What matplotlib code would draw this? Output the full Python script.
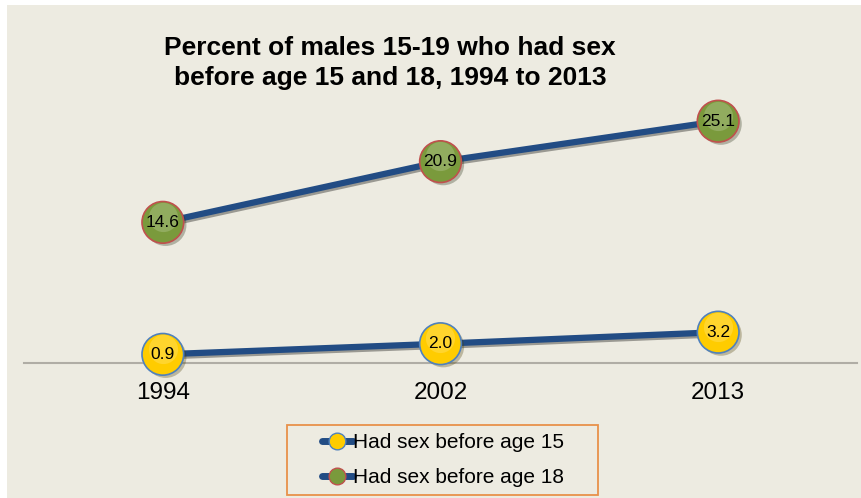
import matplotlib
matplotlib.use("Agg")
import matplotlib.pyplot as plt
import matplotlib.patheffects as pe
import matplotlib.transforms as mtransforms
from matplotlib.lines import Line2D
from matplotlib.patches import Rectangle

# data
years = ["1994", "2002", "2013"]
before_15 = [0.9, 2.0, 3.2]
before_18 = [14.6, 20.9, 25.1]
series_names = ["Had sex before age 15", "Had sex before age 18"]

plt.rcParams["font.family"] = ["Liberation Sans", "DejaVu Sans"]

bg = "#EDEBE1"
line_col = "#224C84"
yellow = "#FFCC00"
yellow_edge = "#4F81BD"
green = "#7A9A3C"
green_edge = "#C0504D"

fig = plt.figure(figsize=(8.61, 4.98), dpi=100)
fig.patch.set_facecolor("white")
# beige chart area (small white margin top/left)
fig.patches.append(Rectangle((7 / 861, 0), 1 - 7 / 861, 1 - 5 / 498,
                             transform=fig.transFigure, facecolor=bg,
                             edgecolor="none", zorder=-10))

ax = fig.add_axes([24 / 861, 135 / 498, 833 / 861, 289 / 498])
ax.set_facecolor("none")

x = list(range(len(years)))
shadow_line = [pe.SimpleLineShadow(offset=(1.5, -1.5), alpha=0.35), pe.Normal()]
shadow_mark = [pe.SimplePatchShadow(offset=(2, -2), alpha=0.3), pe.Normal()]
shine = mtransforms.offset_copy(ax.transData, fig=fig, x=0, y=4, units="points")

for vals, fc, ec in [(before_15, yellow, yellow_edge), (before_18, green, green_edge)]:
    ax.plot(x, vals, color=line_col, lw=4.5, solid_capstyle="butt",
            path_effects=shadow_line, clip_on=False, zorder=3)
    ax.plot(x, vals, ls="none", marker="o", ms=30, mfc=fc, mec=ec, mew=1.2,
            path_effects=shadow_mark, clip_on=False, zorder=4)
    # soft highlight for the glossy look
    ax.plot(x, vals, ls="none", marker="o", ms=21, mfc="white", mec="none",
            alpha=0.18, transform=shine, clip_on=False, zorder=4.5)
    for xi, v in zip(x, vals):
        ax.text(xi, v, f"{v:.1f}", ha="center", va="center", fontsize=12.5,
                color="black", zorder=5)

ax.set_xlim(-0.5, 2.5)
ax.set_ylim(0, 30)
ax.set_xticks(x)
ax.set_xticklabels(years, fontsize=17.5)
ax.set_yticks([])
ax.tick_params(axis="x", length=0, pad=14)
for s in ["top", "right", "left"]:
    ax.spines[s].set_visible(False)
ax.spines["bottom"].set_color("#B0ADA5")
ax.spines["bottom"].set_linewidth(1.5)

fig.text(390 / 861, 1 - 63 / 498,
         "Percent of males 15-19 who had sex\nbefore age 15 and 18, 1994 to 2013",
         ha="center", va="center", fontsize=19, fontweight="bold",
         linespacing=1.3)

# legend
handles = [
    Line2D([], [], color=line_col, lw=5, marker="o", ms=12, mfc=yellow, mec=yellow_edge,
           solid_capstyle="round"),
    Line2D([], [], color=line_col, lw=5, marker="o", ms=12, mfc=green, mec=green_edge,
           solid_capstyle="round"),
]
fig.patches.append(Rectangle((287 / 861, 1 - 495 / 498), 311 / 861, 70 / 498,
                             transform=fig.transFigure, facecolor="none",
                             edgecolor="#E8914A", lw=1.3, zorder=1))
fig.legend(handles, series_names, loc="center", bbox_to_anchor=(443 / 861, 1 - 460 / 498),
           frameon=False, fontsize=15, handlelength=1.5, handletextpad=0.0,
           labelspacing=0.75)

fig.savefig("out.png", dpi=100, facecolor=fig.get_facecolor())
